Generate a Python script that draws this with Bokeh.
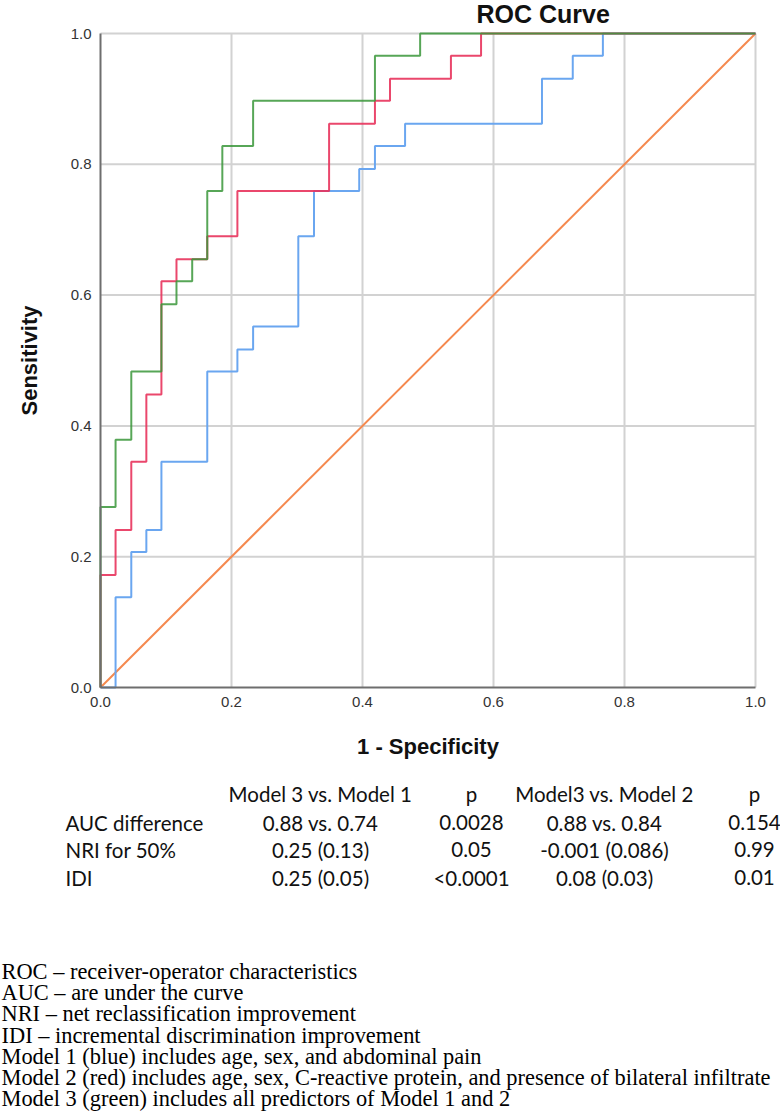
from bokeh.plotting import figure
from bokeh.models import Range1d, FixedTicker, LinearAxis, CustomJSTickFormatter
from bokeh.embed import file_html
from bokeh.resources import INLINE
from bokeh.core.properties import value

# ---- ROC data (1 - specificity, sensitivity) ----
m1_fpr = [0.0, 0.023, 0.047, 0.070, 0.093, 0.163, 0.209, 0.233, 0.302, 0.326, 0.395, 0.419, 0.465, 0.674, 0.721, 0.767, 1.0]
m1_tpr = [0.0, 0.138, 0.207, 0.241, 0.345, 0.483, 0.517, 0.552, 0.690, 0.759, 0.793, 0.828, 0.862, 0.931, 0.966, 1.0, 1.0]

m2_fpr = [0.0, 0.0, 0.023, 0.047, 0.070, 0.093, 0.116, 0.163, 0.209, 0.349, 0.419, 0.442, 0.535, 0.581, 1.0]
m2_tpr = [0.0, 0.172, 0.241, 0.345, 0.448, 0.621, 0.655, 0.690, 0.759, 0.862, 0.897, 0.931, 0.966, 1.0, 1.0]

m3_fpr = [0.0, 0.0, 0.023, 0.047, 0.093, 0.116, 0.140, 0.163, 0.186, 0.233, 0.419, 0.488, 1.0]
m3_tpr = [0.0, 0.276, 0.379, 0.483, 0.586, 0.621, 0.655, 0.759, 0.828, 0.897, 0.966, 1.0, 1.0]

ref_x = [0.0, 1.0]
ref_y = [0.0, 1.0]

ticks = [0.0, 0.2, 0.4, 0.6, 0.8, 1.0]

# ---- table & notes ----
col_headers = ["Model 3 vs. Model 1", "p", "Model3 vs. Model 2", "p"]
row_labels = ["AUC difference", "NRI for 50%", "IDI"]
col1 = ["0.88 vs. 0.74", "0.25 (0.13)", "0.25 (0.05)"]
col2 = ["0.0028", "0.05", "<0.0001"]
col3 = ["0.88 vs. 0.84", "-0.001 (0.086)", "0.08 (0.03)"]
col4 = ["0.154", "0.99", "0.01"]
notes = [
    "ROC \u2013 receiver-operator characteristics",
    "AUC \u2013 are under the curve",
    "NRI \u2013 net reclassification improvement",
    "IDI \u2013 incremental discrimination improvement",
    "Model 1 (blue) includes age, sex, and abdominal pain",
    "Model 2 (red) includes age, sex, C-reactive protein, and presence of bilateral infiltrate",
    "Model 3 (green) includes all predictors of Model 1 and 2",
]

SANS = "Liberation Sans"
W, H = 780, 1113
FL, FR, FT, FB = 100, 755, 33, 687  # edges of the ROC area in page pixels

xr = Range1d(-FL / (FR - FL), (W - FL) / (FR - FL))
yr = Range1d(-(H - FB) / (FB - FT), 1 + FT / (FB - FT))

p = figure(width=W, height=H, output_backend="svg", toolbar_location=None,
           x_range=xr, y_range=yr, min_border=0,
           x_axis_location=None, y_axis_location=None)
p.outline_line_color = None
p.background_fill_color = "white"
p.border_fill_color = "white"
p.grid.visible = False


def px(xp):
    return (xp - FL) / (FR - FL)


def py(yp):
    return (FB - yp) / (FB - FT)


# grid lines at the tick positions, limited to the ROC square
p.segment(x0=ticks[1:], y0=[0.0] * 5, x1=ticks[1:], y1=[1.0] * 5,
          line_color="#d2d2d2", line_width=2)
p.segment(x0=[0.0] * 5, y0=ticks[1:], x1=[1.0] * 5, y1=ticks[1:],
          line_color="#d2d2d2", line_width=2)

xa = LinearAxis(fixed_location=0.0, bounds=(0, 1))
ya = LinearAxis(fixed_location=0.0, bounds=(0, 1))
p.add_layout(xa, "below")
p.add_layout(ya, "left")
for ax in (xa, ya):
    ax.ticker = FixedTicker(ticks=ticks)
    ax.major_tick_out = 0
    ax.major_tick_in = 0
    ax.minor_tick_out = 0
    ax.minor_tick_in = 0
    ax.axis_line_color = "#6e6e6e"
    ax.axis_line_width = 2
    ax.major_label_text_font = SANS
    ax.major_label_text_font_size = "15px"
    ax.major_label_text_color = "#333333"
    ax.major_label_standoff = 9
    ax.axis_label_text_font = SANS
    ax.axis_label_text_font_size = "22px"
    ax.axis_label_text_font_style = "bold"
    ax.axis_label_text_color = "#111111"
    ax.formatter = CustomJSTickFormatter(code="return tick.toFixed(1);")
xa.axis_label = "1 - Specificity"
xa.axis_label_standoff = 24
ya.axis_label = "Sensitivity"
ya.axis_label_standoff = 26

p.line(ref_x, ref_y, line_color="#f5894f", line_width=2)
p.step(m1_fpr, m1_tpr, mode="after", line_color="#6aa6f0", line_width=2)
p.step(m2_fpr, m2_tpr, mode="after", line_color="#e8335c", line_width=2, line_alpha=0.9)
p.step(m3_fpr, m3_tpr, mode="after", line_color="#3a963a", line_width=2, line_alpha=0.85)


def txt(xs, ys, strings, align, font="Lato", size="20.5px", color="#111111", style="normal"):
    p.text(x=[px(v) for v in xs], y=[py(v) for v in ys], text=strings,
           text_font=value(font), text_font_size=value(size), text_font_style=style,
           text_align=align, text_baseline="middle", text_color=color)


# title
txt([476], [13], ["ROC Curve"], "left", font=SANS, size="25px", style="bold")

# ---- table ----
head_y = 793
row_y = [822, 849, 877]
col_x = [320, 471, 604, 754]
txt(col_x, [head_y] * 4, col_headers, "center")
txt([65] * 3, row_y, row_labels, "left")
for cx, vals in zip(col_x, [col1, col2, col3, col4]):
    txt([cx] * 3, row_y, vals, "center")

# ---- notes ----
txt([1] * len(notes), [971 + 21.2 * i for i in range(len(notes))], notes, "left",
    font="Liberation Serif", size="22.4px", color="#000000")

open("out.html", "w").write(file_html(p, INLINE))
